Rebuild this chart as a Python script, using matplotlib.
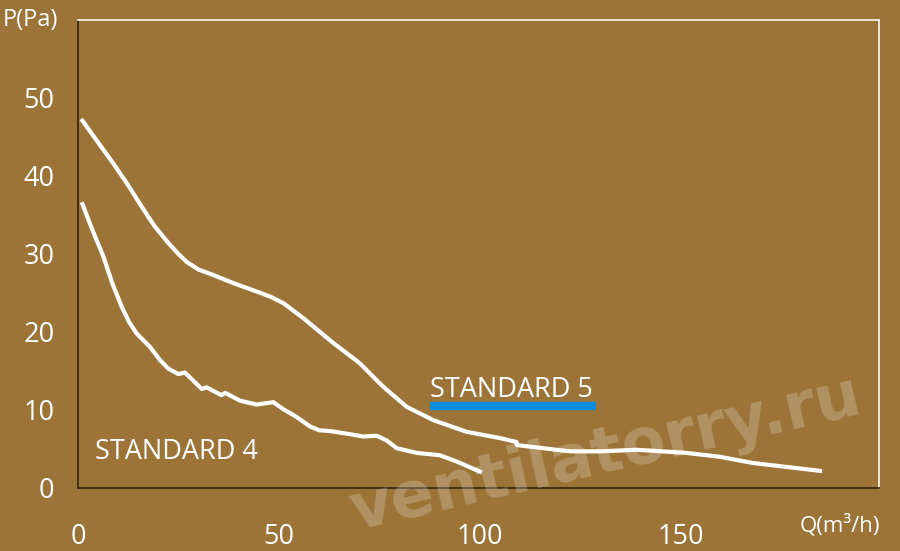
import numpy as np
import matplotlib.pyplot as plt

# STANDARD 5 (upper curve)
q5 = [1.1, 5.0, 8.8, 12.5, 15.8, 19.0, 22.5, 25.0, 27.0, 30.0, 33.7, 39.0, 44.4,
      48.0, 51.1, 56.0, 63.5, 70.1, 75.9, 81.8, 88.4, 96.7, 105.0, 109.1, 109.2,
      117.4, 122.4, 130.0, 139.0, 151.4, 159.7, 168.0, 184.6]
p5 = [47.1, 44.3, 41.6, 38.8, 36.1, 33.6, 31.4, 30.0, 29.0, 28.0, 27.3, 26.2, 25.2,
      24.5, 23.7, 21.8, 18.6, 16.0, 13.0, 10.4, 8.7, 7.2, 6.4, 5.9, 5.5,
      5.0, 4.7, 4.7, 4.9, 4.5, 4.0, 3.2, 2.2]

# STANDARD 4 (lower curve)
q4 = [1.1, 3.5, 6.3, 8.5, 10.9, 12.7, 14.6, 17.9, 20.4, 22.5, 25.0, 26.6, 30.8,
      32.0, 35.7, 36.6, 40.3, 44.4, 48.6, 51.1, 54.4, 57.7, 60.0, 62.7, 67.7,
      71.0, 74.3, 76.8, 79.3, 84.3, 90.0, 94.2, 100.0]
p4 = [36.4, 33.2, 29.7, 26.3, 23.2, 21.3, 19.8, 18.1, 16.4, 15.3, 14.6, 14.8, 12.7,
      12.9, 11.9, 12.2, 11.2, 10.7, 11.0, 10.1, 9.1, 7.9, 7.4, 7.3, 6.9,
      6.6, 6.7, 6.1, 5.1, 4.5, 4.2, 3.4, 2.1]

xticks = [0, 50, 100, 150]
yticks = [0, 10, 20, 30, 40, 50]

bg = '#9c7438'
plt.rcParams['font.family'] = ['Open Sans', 'DejaVu Sans']

fig = plt.figure(figsize=(9, 5.51), dpi=100, facecolor=bg)
ax = fig.add_axes([78/900, 1 - 488/551, 801/900, 468/551])
ax.set_facecolor(bg)

ax.plot(q5, p5, color='white', lw=3, solid_joinstyle='round', zorder=3)
ax.plot(q4, p4, color='white', lw=3, solid_joinstyle='round', zorder=3)

ax.set_xlim(0, 199.3)
ax.set_ylim(0, 60)
ax.set_xticks(xticks)
ax.set_yticks(yticks)
ax.tick_params(length=0, labelsize=19.5, labelcolor='white')
ax.tick_params(axis='y', pad=17)
ax.tick_params(axis='x', pad=25)

for s in ['left', 'bottom']:
    ax.spines[s].set_color('#3b2a0e')
    ax.spines[s].set_linewidth(1.3)
for s in ['top', 'right']:
    ax.spines[s].set_color('#f4eee4')
    ax.spines[s].set_linewidth(1.3)

ax.text(4.2, 3.7, 'STANDARD 4', color='white', fontsize=19.5, va='baseline')
ax.text(87.6, 11.7, 'STANDARD 5', color='white', fontsize=19.5, va='baseline')
ax.plot([87.6, 129.0], [10.5, 10.5], color='#0a8ee0', lw=6, solid_capstyle='butt')

fig.text(3/900, 1 - 20/551, 'P(Pa)', color='white', fontsize=17, va='center', ha='left')
fig.text(880/900, 1 - 525/551, 'Q(m³/h)', color='white', fontsize=16, va='center', ha='right')

# watermark
fig.text(605/900, 1 - 455/551, 'ventilatorry.ru', color='white', alpha=0.22,
         fontsize=46, fontweight='bold', family='DejaVu Sans', rotation=13,
         ha='center', va='center', zorder=1)

fig.savefig('out.png', dpi=100, facecolor=bg)
